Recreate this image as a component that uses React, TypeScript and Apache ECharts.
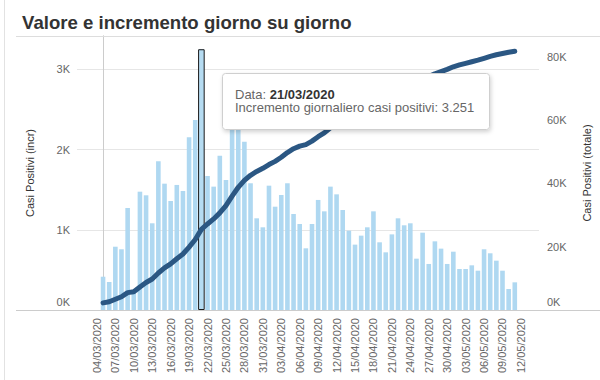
import React, { useEffect, useRef } from 'react';
import * as echarts from 'echarts';

const FONT = '"Liberation Sans", Arial, Helvetica, sans-serif';

const titleText = 'Valore e incremento giorno su giorno';
const leftAxisName = 'Casi Positivi (incr)';
const rightAxisName = 'Casi Positivi (totale)';

// dates of the bars / points (05/03/2020 .. 11/05/2020)
const dates = [
  '05/03/2020', '06/03/2020', '07/03/2020', '08/03/2020', '09/03/2020', '10/03/2020', '11/03/2020',
  '12/03/2020', '13/03/2020', '14/03/2020', '15/03/2020', '16/03/2020', '17/03/2020', '18/03/2020',
  '19/03/2020', '20/03/2020', '21/03/2020', '22/03/2020', '23/03/2020', '24/03/2020', '25/03/2020',
  '26/03/2020', '27/03/2020', '28/03/2020', '29/03/2020', '30/03/2020', '31/03/2020',
  '01/04/2020', '02/04/2020', '03/04/2020', '04/04/2020', '05/04/2020', '06/04/2020', '07/04/2020',
  '08/04/2020', '09/04/2020', '10/04/2020', '11/04/2020', '12/04/2020', '13/04/2020', '14/04/2020',
  '15/04/2020', '16/04/2020', '17/04/2020', '18/04/2020', '19/04/2020', '20/04/2020', '21/04/2020',
  '22/04/2020', '23/04/2020', '24/04/2020', '25/04/2020', '26/04/2020', '27/04/2020', '28/04/2020',
  '29/04/2020', '30/04/2020',
  '01/05/2020', '02/05/2020', '03/05/2020', '04/05/2020', '05/05/2020', '06/05/2020', '07/05/2020',
  '08/05/2020', '09/05/2020', '10/05/2020', '11/05/2020',
];

// x-axis tick labels, every third day; the first one falls one day before dates[0]
const tickLabels = [
  '04/03/2020', '07/03/2020', '10/03/2020', '13/03/2020', '16/03/2020', '19/03/2020',
  '22/03/2020', '25/03/2020', '28/03/2020', '31/03/2020', '03/04/2020', '06/04/2020',
  '09/04/2020', '12/04/2020', '15/04/2020', '18/04/2020', '21/04/2020', '24/04/2020',
  '27/04/2020', '30/04/2020', '03/05/2020', '06/05/2020', '09/05/2020', '12/05/2020',
];
const tickStartOffset = -1;
const tickStep = 3;

// daily increment of positive cases (bars, left axis)
const increments = [
  415, 349, 789, 757, 1272, 250, 1475, 1430, 1081, 1854,
  1575, 1359, 1559, 1484, 2153, 2369, 3251, 1671, 1538, 1924,
  1621, 2530, 2400, 2099, 1580, 1143, 1031, 1550, 1288, 1434,
  1580, 1197, 1072, 769, 1072, 1372, 1230, 1538, 1442, 1247,
  989, 815, 927, 1031, 1230, 844, 719, 943, 1143, 1056,
  1081, 640, 964, 574, 856, 765, 574, 727, 511, 511,
  557, 490, 757, 707, 615, 490, 262, 345,
];

// total positive cases (line, right axis)
const totals = [
  2250, 2600, 3400, 4200, 5500, 5800, 7300, 8700, 9800, 11700,
  13300, 14600, 16200, 17700, 19900, 22300, 25500, 27200, 28800, 30700,
  33000, 36000, 38800, 41000, 42600, 43800, 44800, 46000, 47000, 48300,
  49800, 51000, 51800, 52300, 53400, 54800, 56000, 57600, 58700, 59400,
  60400, 61600, 62700, 63800, 65000, 66100, 67000, 68200, 69300, 70300,
  71300, 72100, 73000, 73800, 74700, 75400, 76100, 76900, 77500, 78000,
  78500, 79000, 79600, 80200, 80700, 81100, 81500, 81800,
];

const highlightIndex = 16;

const fmtThousands = (n: number) => String(n).replace(/\B(?=(\d{3})+(?!\d))/g, '.');

export default function App() {
  const ref = useRef<HTMLDivElement>(null);

  useEffect(() => {
    if (!ref.current) return;
    const chart = echarts.init(ref.current, null, { renderer: 'svg' });

    const xMin = -4.24;
    const xMax = 70.94;
    const labelColor = '#666666';

    const option: any = {
      animation: false,
      backgroundColor: '#ffffff',
      textStyle: { fontFamily: FONT },
      title: {
        text: titleText,
        left: 17,
        top: 8,
        textStyle: { fontSize: 18.6, fontWeight: 'bold', color: '#333333', fontFamily: FONT },
      },
      grid: { left: 77, right: 55, top: 36, bottom: 70 },
      xAxis: [
        {
          type: 'value',
          min: xMin,
          max: xMax,
          axisLine: { show: false },
          axisTick: { show: false },
          splitLine: { show: false },
          axisLabel: {
            customValues: tickLabels.map((_, k) => tickStartOffset + tickStep * k),
            formatter: (v: number) => tickLabels[Math.round((v - tickStartOffset) / tickStep)] ?? '',
            rotate: 90,
            margin: 8,
            color: labelColor,
            fontSize: 11,
            fontFamily: FONT,
          },
        },
        { type: 'value', min: xMin, max: xMax, show: false },
      ],
      yAxis: [
        {
          type: 'value',
          min: 0,
          max: 3416,
          interval: 1000,
          name: leftAxisName,
          nameLocation: 'middle',
          nameRotate: 90,
          nameGap: 42,
          nameTextStyle: { color: '#333333', fontSize: 11, fontFamily: FONT },
          axisLine: { show: true, lineStyle: { color: '#cccccc' } },
          axisTick: { show: false },
          splitLine: { show: true, lineStyle: { color: '#e6e6e6' } },
          axisLabel: {
            margin: 7,
            color: labelColor,
            fontSize: 11,
            fontFamily: FONT,
            formatter: (v: number) => (v === 0 ? '{z|0K}' : v % 1000 === 0 ? v / 1000 + 'K' : ''),
            rich: { z: { padding: [0, 0, 16, 0], color: labelColor, fontSize: 11, fontFamily: FONT } },
          },
        },
        {
          type: 'value',
          min: 0,
          max: 86640,
          interval: 20000,
          position: 'right',
          name: rightAxisName,
          nameLocation: 'middle',
          nameRotate: 90,
          nameGap: 42,
          nameTextStyle: { color: '#333333', fontSize: 11, fontFamily: FONT },
          axisLine: { show: true, lineStyle: { color: '#cccccc' } },
          axisTick: { show: false },
          splitLine: { show: false },
          axisLabel: {
            margin: 8,
            color: labelColor,
            fontSize: 11,
            fontFamily: FONT,
            formatter: (v: number) => (v === 0 ? '{z|0K}' : v % 20000 === 0 ? v / 1000 + 'K' : ''),
            rich: { z: { padding: [0, 0, 16, 0], color: labelColor, fontSize: 11, fontFamily: FONT } },
          },
        },
      ],
      series: [
        {
          name: 'Incremento',
          type: 'bar',
          xAxisIndex: 0,
          yAxisIndex: 0,
          data: increments.map((v, i) => [i, v]),
          barWidth: 4.6,
          itemStyle: { color: '#afd8f1' },
          z: 2,
        },
        {
          name: 'Selezione',
          type: 'bar',
          xAxisIndex: 1,
          yAxisIndex: 0,
          data: [[highlightIndex, increments[highlightIndex]]],
          barWidth: 6.6,
          itemStyle: { color: '#b6dcf2', borderColor: '#1a1a1a', borderWidth: 1 },
          z: 3,
        },
        {
          name: 'Totale',
          type: 'line',
          xAxisIndex: 0,
          yAxisIndex: 1,
          data: totals.map((v, i) => [i, v]),
          symbol: 'none',
          showSymbol: false,
          lineStyle: { width: 5, color: '#2b5783', cap: 'round', join: 'round' },
          z: 4,
        },
      ],
      graphic: [
        { type: 'line', z: 1, shape: { x1: 16, y1: 36.5, x2: 600, y2: 36.5 }, style: { stroke: '#dddddd', lineWidth: 1 } },
        { type: 'line', z: 1, shape: { x1: 16, y1: 310.5, x2: 600, y2: 310.5 }, style: { stroke: '#cccccc', lineWidth: 1 } },
        { type: 'line', z: 1, shape: { x1: 4.5, y1: 0, x2: 4.5, y2: 380 }, style: { stroke: '#e2e2e2', lineWidth: 1 } },
        {
          type: 'rect',
          z: 100,
          zlevel: 1,
          shape: { x: 222.5, y: 73.5, width: 267, height: 56, r: 3 },
          style: {
            fill: '#ffffff',
            stroke: '#cfcfcf',
            lineWidth: 1,
            shadowBlur: 4,
            shadowColor: 'rgba(0,0,0,0.18)',
            shadowOffsetX: 1,
            shadowOffsetY: 2,
          },
        },
        {
          type: 'text',
          z: 101,
          zlevel: 1,
          x: 235,
          y: 94,
          style: {
            text: '{a|Data: }{b|' + dates[highlightIndex] + '}',
            verticalAlign: 'middle',
            rich: {
              a: { fontSize: 13, fill: '#666666', fontFamily: FONT },
              b: { fontSize: 13, fill: '#333333', fontWeight: 'bold', fontFamily: FONT },
            },
          },
        },
        {
          type: 'text',
          z: 101,
          zlevel: 1,
          x: 235,
          y: 107.5,
          style: {
            text: 'Incremento giornaliero casi positivi: ' + fmtThousands(increments[highlightIndex]),
            verticalAlign: 'middle',
            fontSize: 13,
            fill: '#666666',
            fontFamily: FONT,
          },
        },
      ],
    };

    chart.setOption(option);
    return () => chart.dispose();
  }, []);

  return (
    <div
      ref={ref}
      style={{ position: 'fixed', left: 0, top: 0, width: 600, height: 380, background: '#ffffff' }}
    />
  );
}
